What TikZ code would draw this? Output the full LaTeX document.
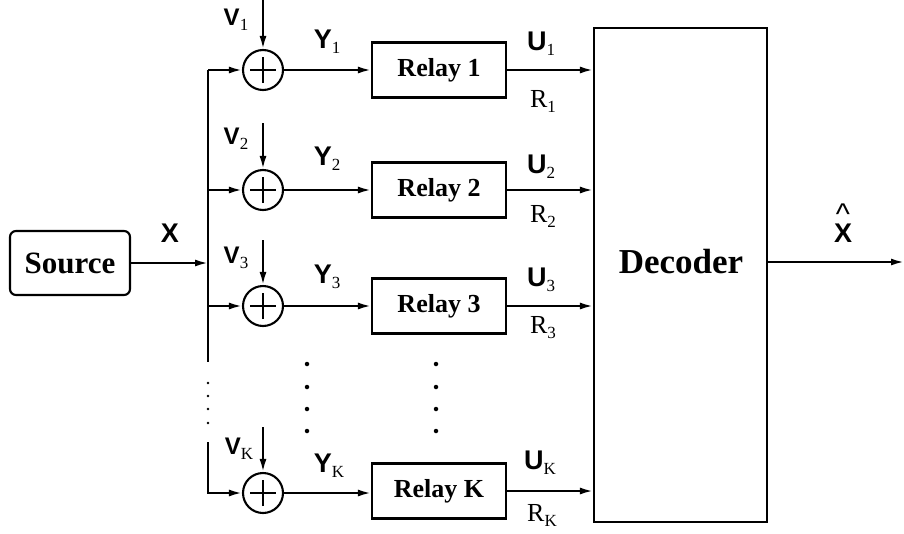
\documentclass[tikz,border=0pt]{standalone}
\usepackage{fontspec}
\setmainfont{Liberation Serif}
\setsansfont{Liberation Sans}
\usetikzlibrary{arrows.meta}
\newcommand\lbl[3]{{\fontsize{#3}{#3}\selectfont\sffamily\bfseries #1}\raisebox{-5pt}{\fontsize{17}{17}\selectfont\rmfamily #2}}
\newcommand\rlbl[1]{{\fontsize{26}{26}\selectfont R}\raisebox{-5pt}{\fontsize{17}{17}\selectfont #1}}
\begin{document}
\begin{tikzpicture}[x=1pt,y=-1pt,line width=2.1pt,
  >={Latex[length=13pt,width=7pt]},
  srcbox/.style={draw,rounded corners=6pt,minimum width=120pt,minimum height=64pt,inner sep=0pt,font=\fontsize{31}{31}\selectfont\bfseries},
  relay/.style={draw,minimum width=134pt,minimum height=55pt,inner sep=0pt,font=\fontsize{26}{26}\selectfont\bfseries},
  decbox/.style={draw,minimum width=173pt,minimum height=494pt,inner sep=0pt},
  dectext/.style={font=\fontsize{35}{35}\selectfont\bfseries,inner sep=0pt},
  sumc/.style={draw,circle,minimum size=40pt,inner sep=0pt,
    path picture={\draw[line width=1.8pt] ([xshift=-13pt]path picture bounding box.center) -- ([xshift=13pt]path picture bounding box.center);
                  \draw[line width=1.8pt] ([yshift=-13pt]path picture bounding box.center) -- ([yshift=13pt]path picture bounding box.center);}},
  lab/.style={inner sep=0pt},
  bdot/.style={fill,circle,inner sep=0pt,minimum size=2.8pt},
  cdot/.style={fill,circle,inner sep=0pt,minimum size=4.5pt}]
\useasboundingbox (0,0) rectangle (904,533);

% source
\node[srcbox] (src) at (70,263) {Source};
\node[lab] (xl) at (170,233) {\fontsize{27}{27}\selectfont\sffamily\bfseries X};

% bus coordinates
\coordinate (b1) at (208,70);
\coordinate (b2) at (208,362);
\coordinate (b3) at (208,442);
\coordinate (b4) at (208,493);

% summing junctions
\node[sumc] (s1) at (263,70) {};
\node[sumc] (s2) at (263,190) {};
\node[sumc] (s3) at (263,306) {};
\node[sumc] (sK) at (263,493) {};

% relays
\node[relay] (r1) at (439,70) {Relay 1};
\node[relay] (r2) at (439,190) {Relay 2};
\node[relay] (r3) at (439,306) {Relay 3};
\node[relay] (rK) at (439,491) {Relay K};

% decoder
\node[decbox] (dec) at (680.5,275) {};
\node[dectext] (dect) at (681,262) {Decoder};
\coordinate (out) at (904,262);

% noise inputs
\coordinate (v1) at (263,0);
\coordinate (v2) at (263,123);
\coordinate (v3) at (263,240);
\coordinate (vK) at (263,427);

% source to bus
\draw[->] (src.east) -- (src.east -| b1);
% bus
\draw (b1) -- (b2);
\draw[->] (b1) -- (s1.west);
\draw[->] (s2.west -| b1) -- (s2.west);
\draw[->] (s3.west -| b1) -- (s3.west);
\draw[->] (b3) -- (b4) -- (sK.west);
% noise arrows
\draw[->] (v1) -- (s1.north);
\draw[->] (v2) -- (s2.north);
\draw[->] (v3) -- (s3.north);
\draw[->] (vK) -- (sK.north);
% sum to relay
\draw[->] (s1.east) -- (s1.east -| r1.west);
\draw[->] (s2.east) -- (s2.east -| r2.west);
\draw[->] (s3.east) -- (s3.east -| r3.west);
\draw[->] (sK.east) -- (sK.east -| rK.west);
% relay to decoder
\draw[->] (r1.east) -- (r1.east -| dec.west);
\draw[->] (r2.east) -- (r2.east -| dec.west);
\draw[->] (r3.east) -- (r3.east -| dec.west);
\draw[->] (rK.east) -- (rK.east -| dec.west);
% output
\draw[->] (dec.east |- out) -- (out);

% labels
\node[lab] (lv1) at (236,20) {\lbl{V}{1}{24}};
\node[lab] (lv2) at (236,139) {\lbl{V}{2}{24}};
\node[lab] (lv3) at (236,258) {\lbl{V}{3}{24}};
\node[lab] (lvK) at (239,449) {\lbl{V}{K}{24}};
\node[lab] (ly1) at (327,42) {\lbl{Y}{1}{27}};
\node[lab] (ly2) at (327,159) {\lbl{Y}{2}{27}};
\node[lab] (ly3) at (327,277) {\lbl{Y}{3}{27}};
\node[lab] (lyK) at (329,466) {\lbl{Y}{K}{27}};
\node[lab] (lu1) at (541,44) {\lbl{U}{1}{27}};
\node[lab] (lu2) at (541,167) {\lbl{U}{2}{27}};
\node[lab] (lu3) at (541,280) {\lbl{U}{3}{27}};
\node[lab] (luK) at (540,463) {\lbl{U}{K}{27}};
\node[lab] (lr1) at (543,101) {\rlbl{1}};
\node[lab] (lr2) at (543,216) {\rlbl{2}};
\node[lab] (lr3) at (543,328) {\rlbl{3}};
\node[lab] (lrK) at (542,515) {\rlbl{K}};
\node[lab,align=center,font=\fontsize{27}{27}\selectfont\sffamily\bfseries] (xhat) at (843,223) {{\fontsize{30}{30}\selectfont\mdseries\^{}}\\[-9pt]X};

% dots
\foreach \y in {383,396,409,423} \node[bdot] at (208,\y) {};
\foreach \y in {364,387,409,431} {\node[cdot] at (307,\y) {}; \node[cdot] at (436,\y) {};}
\end{tikzpicture}
\end{document}
